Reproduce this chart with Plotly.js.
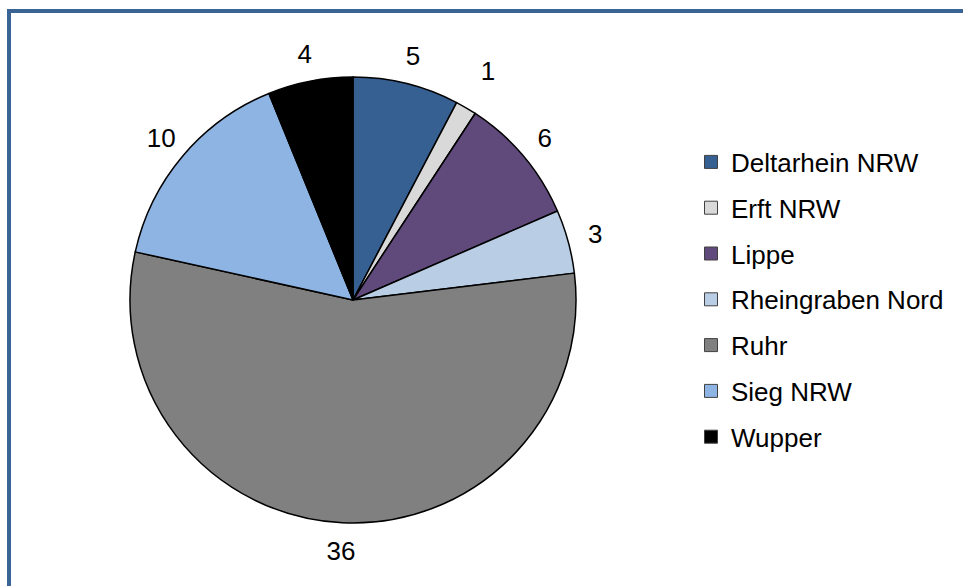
<!DOCTYPE html>
<html>
<head>
<meta charset="utf-8">
<script src="https://cdn.plot.ly/plotly-3.0.1.min.js"></script>
<style>
  html, body { margin: 0; padding: 0; background: #ffffff; overflow: hidden; }
  #chart { position: absolute; left: 0; top: 0; width: 963px; height: 586px; }
  #frame { position: absolute; left: 7px; top: 9px; width: 1000px; height: 700px;
           border: 4px solid #3B6496; pointer-events: none; z-index: 5; }
</style>
</head>
<body>
<div id="chart"></div>
<div id="frame"></div>
<script>
const labels = ["Deltarhein NRW", "Erft NRW", "Lippe", "Rheingraben Nord", "Ruhr", "Sieg NRW", "Wupper"];
const values = [5, 1, 6, 3, 36, 10, 4];
const colors = ["#376092", "#D9D9D9", "#604A7B", "#B9CDE5", "#808080", "#8EB4E3", "#000000"];

const W = 963, H = 586;
const cx = 353, cy = 300, r = 223;   // pie
const rLab = 279;                     // outer radius of invisible label ring

const FONT = "Liberation Sans, Arial, sans-serif";

function dom(rad) {
  return {
    x: [(cx - rad) / W, (cx + rad) / W],
    y: [1 - (cy + rad) / H, 1 - (cy - rad) / H]
  };
}

const pieTrace = {
  type: "pie",
  labels: labels,
  values: values,
  sort: false,
  direction: "clockwise",
  rotation: 0,
  marker: { colors: colors, line: { color: "#000000", width: 1.5 } },
  textinfo: "none",
  showlegend: false,
  hoverinfo: "label+value",
  domain: dom(r)
};

// transparent ring around the pie that carries the value labels
const labelRing = {
  type: "pie",
  labels: labels,
  values: values,
  sort: false,
  direction: "clockwise",
  rotation: 0,
  hole: r / rLab,
  marker: { colors: labels.map(() => "rgba(0,0,0,0)"), line: { width: 0 } },
  textinfo: "value",
  textposition: "inside",
  insidetextorientation: "horizontal",
  insidetextfont: { family: FONT, size: 26, color: "#000000" },
  showlegend: false,
  hoverinfo: "skip",
  domain: dom(rLab)
};

const legendTraces = labels.map((lab, i) => ({
  type: "scatter",
  mode: "markers",
  x: [null],
  y: [null],
  name: lab,
  legendgroup: "g" + i,
  showlegend: true,
  marker: { symbol: "square", size: 13, color: colors[i], line: { color: "#404040", width: 1 } },
  hoverinfo: "skip"
}));

const layout = {
  width: W,
  height: H,
  margin: { l: 0, r: 0, t: 0, b: 0 },
  paper_bgcolor: "rgba(0,0,0,0)",
  plot_bgcolor: "rgba(0,0,0,0)",
  font: { family: FONT, size: 26, color: "#000000" },
  uniformtext: { mode: "show", minsize: 26 },
  xaxis: { visible: false, domain: [0.99, 1] },
  yaxis: { visible: false, domain: [0.99, 1] },
  showlegend: true,
  legend: {
    x: 691 / W,
    xanchor: "left",
    y: 1 - 299.5 / H,
    yanchor: "middle",
    traceorder: "grouped",
    tracegroupgap: 9,
    font: { family: FONT, size: 26, color: "#000000" },
    bgcolor: "rgba(0,0,0,0)",
    borderwidth: 0,
    itemclick: false,
    itemdoubleclick: false
  }
};

Plotly.newPlot("chart", [pieTrace, labelRing].concat(legendTraces), layout, { displayModeBar: false, staticPlot: true });
</script>
</body>
</html>
